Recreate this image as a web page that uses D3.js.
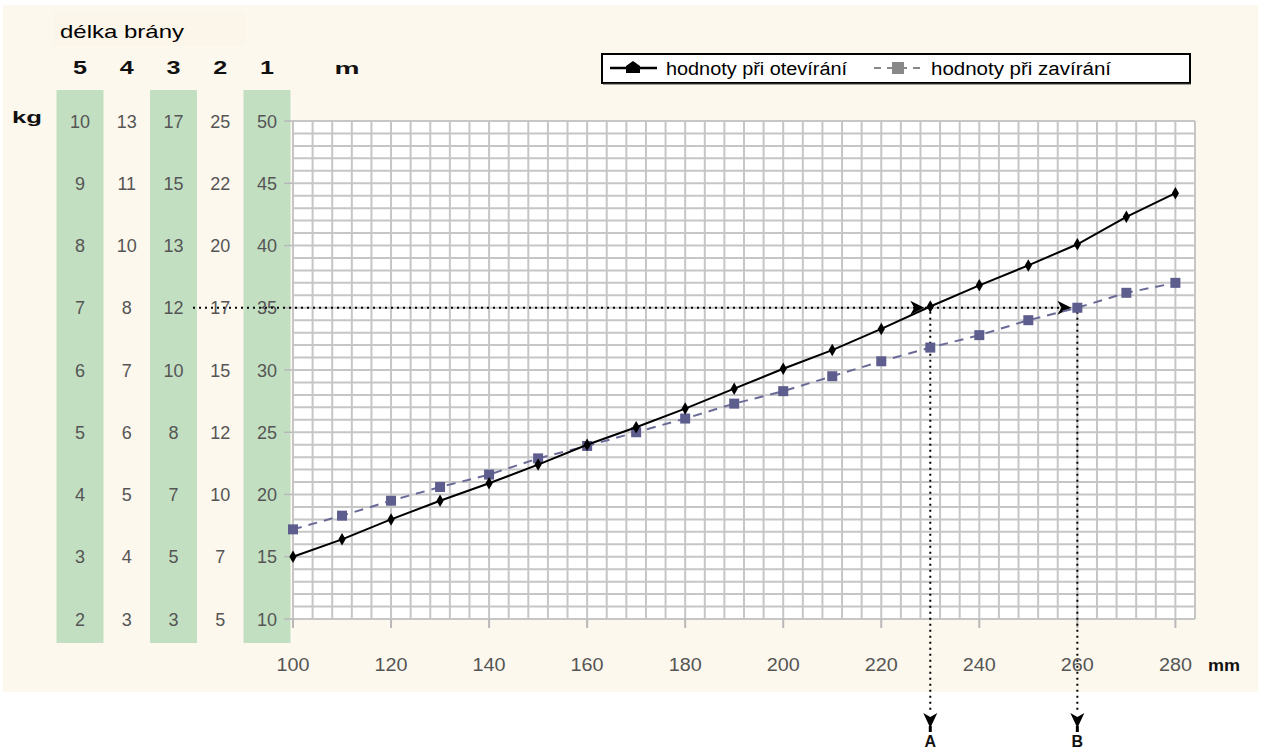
<!DOCTYPE html>
<html><head><meta charset="utf-8">
<script src="https://cdn.jsdelivr.net/npm/d3@7"></script>
<style>html,body{margin:0;padding:0;background:#fff;}svg{display:block;font-family:"Liberation Sans",Arial,sans-serif;}</style>
</head><body>
<svg id="c" width="1263" height="749"></svg>
<script>
// ---- data ----
const xValues = [100,110,120,130,140,150,160,170,180,190,200,210,220,230,240,250,260,270,280];
const openValues  = [15,16.4,18,19.5,20.9,22.4,24,25.4,26.9,28.5,30.1,31.6,33.3,35.1,36.8,38.4,40.1,42.3,44.2];
const closeValues = [17.2,18.3,19.5,20.6,21.6,22.9,23.9,25.0,26.1,27.3,28.3,29.5,30.7,31.8,32.8,34.0,35.0,36.2,37.0];
const seriesNames = ["hodnoty při otevírání","hodnoty při zavírání"];
const xTicks = [100,120,140,160,180,200,220,240,260,280];
const kgTicks = [50,45,40,35,30,25,20,15,10];
const gateLengths = ["5","4","3","2","1"];
const gateColumns = {
  "5": [10,9,8,7,6,5,4,3,2],
  "4": [13,11,10,8,7,6,5,4,3],
  "3": [17,15,13,12,10,8,7,5,3],
  "2": [25,22,20,17,15,12,10,7,5],
  "1": [50,45,40,35,30,25,20,15,10]
};
const greenColumns = ["5","3","1"];
const markA = {x:230, y:35, label:"A"};
const markB = {x:260, y:35, label:"B"};

// ---- layout ----
const svg = d3.select("#c");
const x = d3.scaleLinear().domain([100,284]).range([293,1195]);
const y = d3.scaleLinear().domain([10,50]).range([619,121]);
const col = d3.scalePoint().domain(gateLengths).range([80,267]);

function stretch(sel, len){ return sel.attr("textLength",len).attr("lengthAdjust","spacingAndGlyphs"); }

// background
svg.append("rect").attr("x",3).attr("y",5).attr("width",1255).attr("height",687).attr("fill","#fdf8ed");
svg.append("rect").attr("x",53).attr("y",13).attr("width",192).attr("height",33).attr("fill","#fcf6ea");

// green columns
svg.selectAll("rect.g").data(greenColumns).join("rect")
  .attr("x",d=>col(d)-23.5).attr("y",90).attr("width",47).attr("height",553)
  .attr("fill","#c3dfc2");

// plot area
svg.append("rect").attr("x",x(100)).attr("y",y(50)).attr("width",x(284)-x(100)).attr("height",y(10)-y(50)).attr("fill","#fff");

const grid = svg.append("g").attr("stroke","#c6c6c6").attr("stroke-width",2);
grid.selectAll("line.h").data(d3.range(10,51,1)).join("line")
  .attr("x1",x(100)).attr("x2",x(284)).attr("y1",d=>y(d)).attr("y2",d=>y(d));
grid.selectAll("line.v").data(d3.range(100,285,4)).join("line")
  .attr("y1",y(50)).attr("y2",y(10)).attr("x1",d=>x(d)).attr("x2",d=>x(d));

// x axis ticks
svg.append("g").selectAll("line").data(xTicks).join("line")
  .attr("x1",d=>x(d)).attr("x2",d=>x(d)).attr("y1",y(10)).attr("y2",y(10)+9)
  .attr("stroke","#b8b8b8").attr("stroke-width",2);
stretch(svg.append("g").selectAll("text").data(xTicks).join("text")
  .attr("x",d=>x(d)).attr("y",671).attr("text-anchor","middle")
  .attr("font-size",18).attr("fill","#555").text(d=>d), 33);
stretch(svg.append("text").attr("x",1208).attr("y",671).attr("font-size",16).attr("font-weight","bold").attr("fill","#111").text("mm"), 32);

// y ticks (kg)
svg.append("g").selectAll("line").data(kgTicks).join("line")
  .attr("x1",284).attr("x2",x(100)).attr("y1",d=>y(d)).attr("y2",d=>y(d))
  .attr("stroke","#b8b8b8").attr("stroke-width",1.5);

// gate columns text
gateLengths.forEach(k=>{
  svg.append("g").selectAll("text").data(gateColumns[k].map((v,i)=>({v,kg:kgTicks[i]}))).join("text")
    .attr("x",col(k)).attr("y",d=>y(d.kg)+6.5).attr("text-anchor","middle")
    .attr("font-size",18).attr("fill","#555").text(d=>d.v);
});
stretch(svg.append("g").selectAll("text").data(gateLengths).join("text")
  .attr("x",d=>col(d)).attr("y",74).attr("text-anchor","middle")
  .attr("font-size",18).attr("font-weight","bold").attr("fill","#111").text(d=>d), 14);
stretch(svg.append("text").attr("x",347).attr("y",74).attr("text-anchor","middle").attr("font-size",17).attr("font-weight","bold").attr("fill","#111").text("m"), 25);
stretch(svg.append("text").attr("x",12).attr("y",123).attr("font-size",16).attr("font-weight","bold").attr("fill","#111").text("kg"), 30);
stretch(svg.append("text").attr("x",60).attr("y",38).attr("font-size",19).attr("fill","#000").text("délka brány"), 124);

// reference dotted lines
const dots = svg.append("g").attr("stroke","#000").attr("stroke-width",2).attr("stroke-dasharray","2,4").attr("fill","none");
dots.append("line").attr("x1",193).attr("x2",x(markB.x)-10).attr("y1",y(markA.y)).attr("y2",y(markA.y));
[markA,markB].forEach(m=>{
  dots.append("line").attr("x1",x(m.x)).attr("x2",x(m.x)).attr("y1",y(m.y)+4).attr("y2",712);
});
// arrowheads
[markA,markB].forEach(m=>{
  const tx = x(m.x)-6, ty = y(m.y);
  svg.append("path").attr("d",`M${tx},${ty} L${tx-14},${ty-7} L${tx-10},${ty} L${tx-14},${ty+7} Z`).attr("fill","#000");
  const dx = x(m.x);
  svg.append("path").attr("d",`M${dx},728 L${dx-7},713 L${dx},717 L${dx+7},713 Z`).attr("fill","#000");
  svg.append("rect").attr("x",dx-1.5).attr("y",726).attr("width",3).attr("height",6).attr("fill","#000");
  svg.append("text").attr("x",dx).attr("y",747).attr("text-anchor","middle").attr("font-size",16).attr("font-weight","bold").attr("fill","#111").text(m.label);
});

// series
const line = d3.line().x((d,i)=>x(xValues[i])).y(d=>y(d));
svg.append("path").datum(closeValues).attr("d",line).attr("fill","none")
  .attr("stroke","#6a6a98").attr("stroke-width",2).attr("stroke-dasharray","9,7");
svg.append("g").selectAll("rect").data(closeValues).join("rect")
  .attr("x",(d,i)=>x(xValues[i])-5).attr("y",d=>y(d)-5).attr("width",10).attr("height",10).attr("fill","#5e5e8e");
svg.append("path").datum(openValues).attr("d",line).attr("fill","none")
  .attr("stroke","#000").attr("stroke-width",2);
svg.append("g").selectAll("path").data(openValues).join("path")
  .attr("transform",(d,i)=>`translate(${x(xValues[i])},${y(d)})`)
  .attr("d",d3.symbol(d3.symbolDiamond,45)).attr("fill","#000");

// legend
const lg = svg.append("g");
lg.append("rect").attr("x",602).attr("y",54).attr("width",588).attr("height",29).attr("fill","#fff").attr("stroke","#000").attr("stroke-width",2);
lg.append("line").attr("x1",603).attr("x2",1191).attr("y1",84).attr("y2",84).attr("stroke","#444").attr("stroke-width",1);
lg.append("line").attr("x1",610).attr("x2",657).attr("y1",68).attr("y2",68).attr("stroke","#000").attr("stroke-width",2.5);
lg.append("path").attr("d","M633,61 L640,66 L640,73 L626,73 L626,66 Z").attr("fill","#000");
stretch(lg.append("text").attr("x",666).attr("y",75).attr("font-size",18).attr("fill","#000").text(seriesNames[0]), 181);
lg.append("line").attr("x1",874).attr("x2",921).attr("y1",68).attr("y2",68).attr("stroke","#888").attr("stroke-width",2).attr("stroke-dasharray","7,6");
lg.append("rect").attr("x",892).attr("y",62).attr("width",12).attr("height",12).attr("fill","#888");
stretch(lg.append("text").attr("x",931).attr("y",75).attr("font-size",18).attr("fill","#000").text(seriesNames[1]), 180);
</script>
</body></html>
